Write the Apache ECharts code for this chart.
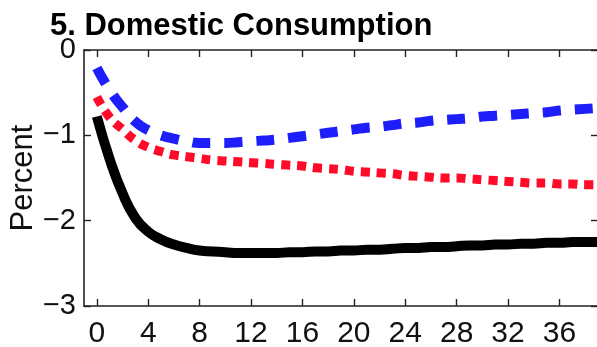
<!DOCTYPE html>
<html>
<head>
<meta charset="utf-8">
<script src="https://cdn.jsdelivr.net/npm/echarts@6/dist/echarts.min.js"></script>
<style>
  html, body { margin: 0; padding: 0; background: #fff; }
  #chart { width: 597px; height: 347px; }
</style>
</head>
<body>
<div id="chart"></div>
<script>
// Quarters after the shock
const quarters = Array.from({ length: 40 }, (_, i) => i);

// Response of domestic consumption, percent deviation
const baseline = [
  -0.78, -1.28, -1.68, -1.97, -2.13, -2.22, -2.28, -2.32, -2.35, -2.36,
  -2.37, -2.38, -2.38, -2.38, -2.38, -2.37, -2.37, -2.36, -2.36, -2.35,
  -2.35, -2.34, -2.34, -2.33, -2.32, -2.32, -2.31, -2.31, -2.30, -2.29,
  -2.29, -2.28, -2.28, -2.27, -2.27, -2.26, -2.26, -2.25, -2.25, -2.25
];
const blueCase = [
  -0.21, -0.47, -0.67, -0.84, -0.94, -1.00, -1.04, -1.07, -1.09, -1.09,
  -1.09, -1.08, -1.07, -1.06, -1.05, -1.03, -1.01, -0.99, -0.97, -0.95,
  -0.93, -0.91, -0.90, -0.88, -0.86, -0.85, -0.83, -0.82, -0.81, -0.80,
  -0.78, -0.77, -0.76, -0.75, -0.74, -0.73, -0.71, -0.70, -0.69, -0.68
];
const redCase = [
  -0.55, -0.79, -0.93, -1.06, -1.14, -1.19, -1.23, -1.25, -1.27, -1.29,
  -1.30, -1.31, -1.32, -1.33, -1.34, -1.35, -1.36, -1.38, -1.39, -1.40,
  -1.42, -1.43, -1.44, -1.45, -1.47, -1.48, -1.49, -1.50, -1.50, -1.51,
  -1.52, -1.53, -1.54, -1.55, -1.56, -1.56, -1.57, -1.57, -1.58, -1.58
];

// Tick positions
const xTicks = [0, 4, 8, 12, 16, 20, 24, 28, 32, 36];
const yTicks = [0, -1, -2, -3];

const titleText = '5. Domestic Consumption';
const yName = 'Percent';

const font = 'Liberation Sans, Arial, Helvetica, sans-serif';
const axisColor = '#222';

function pairs(values) {
  return quarters.map((q, i) => [q, values[i]]);
}

function fmt(v) {
  return v < 0 ? '\u2212' + Math.abs(v) : String(v);
}

const frameLine = { show: true, onZero: false, lineStyle: { color: axisColor, width: 1.6 } };
const innerTick = { show: true, inside: true, length: 7, lineStyle: { color: axisColor, width: 1.4 } };

const chart = echarts.init(document.getElementById('chart'), null, { renderer: 'canvas' });

chart.setOption({
  animation: false,
  backgroundColor: '#fff',
  title: {
    text: titleText,
    left: 45,
    top: 6,
    textStyle: { fontFamily: font, fontWeight: 'bold', fontSize: 31, color: '#000' }
  },
  grid: { left: 84, right: -1, top: 50, bottom: 41, outerBoundsMode: 'none', containLabel: false },
  xAxis: [
    {
      type: 'value', position: 'bottom', min: -1, max: 39,
      axisLine: frameLine,
      axisTick: Object.assign({ customValues: xTicks }, innerTick),
      axisLabel: {
        customValues: xTicks, margin: 13,
        fontFamily: font, fontSize: 30, color: '#111',
        formatter: fmt
      },
      splitLine: { show: false }
    },
    {
      type: 'value', position: 'top', min: -1, max: 39,
      axisLine: frameLine,
      axisTick: Object.assign({ customValues: xTicks }, innerTick),
      axisLabel: { show: false },
      splitLine: { show: false }
    }
  ],
  yAxis: [
    {
      type: 'value', position: 'left', min: -3, max: 0, interval: 1,
      name: yName, nameLocation: 'middle', nameGap: 45, nameRotate: 90,
      nameMoveOverlap: false,
      nameTextStyle: { fontFamily: font, fontSize: 31, color: '#111' },
      axisLine: frameLine,
      axisTick: innerTick,
      axisLabel: {
        customValues: yTicks, margin: 8,
        fontFamily: font, fontSize: 29, color: '#111',
        formatter: fmt
      },
      splitLine: { show: false }
    },
    {
      type: 'value', position: 'right', min: -3, max: 0, interval: 1,
      axisLine: frameLine,
      axisTick: innerTick,
      axisLabel: { show: false },
      splitLine: { show: false }
    }
  ],
  series: [
    {
      name: 'baseline', type: 'line', xAxisIndex: 0, yAxisIndex: 0,
      data: pairs(baseline), showSymbol: false, smooth: true,
      lineStyle: { color: '#000', width: 10, cap: 'butt' }
    },
    {
      name: 'red', type: 'line', xAxisIndex: 0, yAxisIndex: 0,
      data: pairs(redCase), showSymbol: false, smooth: true,
      lineStyle: { color: '#ff0a28', width: 9, type: [9, 7], cap: 'butt' }
    },
    {
      name: 'blue', type: 'line', xAxisIndex: 0, yAxisIndex: 0,
      data: pairs(blueCase), showSymbol: false, smooth: true,
      lineStyle: { color: '#1e1efa', width: 10, type: [18, 14], cap: 'butt' }
    }
  ]
});
</script>
</body>
</html>
